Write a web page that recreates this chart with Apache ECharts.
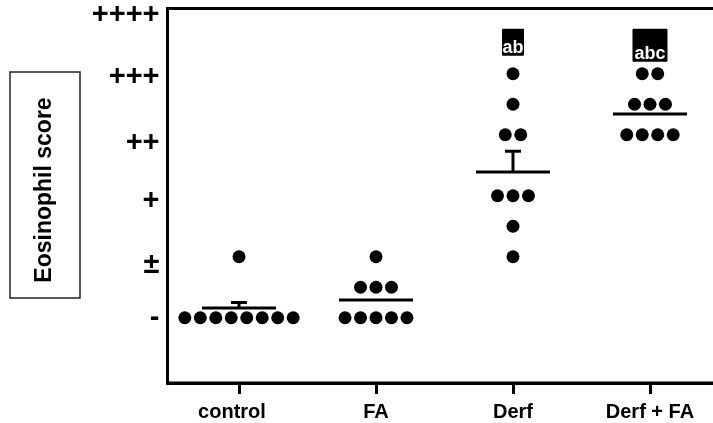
<!DOCTYPE html>
<html>
<head>
<meta charset="utf-8">
<script src="https://cdn.jsdelivr.net/npm/echarts@6/dist/echarts.min.js"></script>
<style>
  html, body { margin: 0; padding: 0; background: #fff; }
  #chart { width: 713px; height: 423px; }
</style>
</head>
<body>
<div id="chart"></div>
<script>
// ---- data ----
const categories = ['control', 'FA', 'Derf', 'Derf + FA'];
const controlScores = [0, 0, 0, 0, 0, 0, 0, 0, 1];
const faScores = [0, 0, 0, 0, 0, 0.5, 0.5, 0.5, 1];
const derfScores = [1, 1.5, 2, 2, 2, 3, 3, 3.5, 4];
const derfFaScores = [3, 3, 3, 3, 3.5, 3.5, 3.5, 4, 4];
const groupMeans = [0.16, 0.29, 2.39, 3.34];
const groupSem = [0.09, 0, 0.34, 0];
// tick label positions as they sit on the reference's score axis
const yTickValues = [0, 0.86, 1.91, 2.86, 3.94, 4.96];
const yTickLabels = ['-', '±', '+', '++', '+++', '++++'];
const sigLabels = ['', '', 'ab', 'abc'];
const sigLevel = 4.74;

const FONT = "'Liberation Sans', Arial, Helvetica, sans-serif";
const dotStep = 0.113; // horizontal spacing of tied dots, in category units

function spreadDots(scores, idx) {
  const counts = {};
  scores.forEach(v => { counts[v] = (counts[v] || 0) + 1; });
  const pts = [];
  Object.keys(counts).forEach(key => {
    const n = counts[key];
    for (let k = 0; k < n; k++) {
      pts.push([idx + (k - (n - 1) / 2) * dotStep, Number(key)]);
    }
  });
  return pts;
}

const allScores = [controlScores, faScores, derfScores, derfFaScores];
let dots = [];
allScores.forEach((s, i) => { dots = dots.concat(spreadDots(s, i)); });

const meanData = groupMeans.map((m, i) => [i, m, groupSem[i]]);
const sigData = sigLabels.map((t, i) => [i, sigLevel, t]).filter(d => d[2] !== '');

const chart = echarts.init(document.getElementById('chart'), null, { renderer: 'canvas' });

function labelFor(v) {
  let best = 0;
  yTickValues.forEach((t, i) => { if (Math.abs(t - v) < Math.abs(yTickValues[best] - v)) best = i; });
  return yTickLabels[best];
}

const xLabelStyle = { color: '#000', fontFamily: FONT, fontWeight: 'bold', fontSize: 20 };

chart.setOption({
  animation: false,
  backgroundColor: '#fff',
  grid: {
    left: 167.5, top: 8.5, right: -10, bottom: 40,
    outerBoundsMode: 'none',
    containLabel: false,
    show: true, borderColor: '#000', borderWidth: 3, backgroundColor: 'transparent'
  },
  xAxis: {
    type: 'value',
    min: -0.522, max: 3.533,
    splitLine: { show: false },
    axisLine: { show: true, onZero: false, lineStyle: { color: '#000', width: 3 } },
    axisTick: { show: true, customValues: [0, 1, 2, 3], length: 11, lineStyle: { color: '#000', width: 3 } },
    axisLabel: {
      customValues: [0, 1, 2, 3],
      formatter: v => {
        const i = Math.round(v);
        return i === 0 ? '{first|' + categories[i] + '}' : '{n|' + categories[i] + '}';
      },
      rich: {
        first: Object.assign({ padding: [0, 14, 0, 0] }, xLabelStyle),
        n: Object.assign({}, xLabelStyle)
      },
      color: '#000', fontFamily: FONT, fontWeight: 'bold', fontSize: 20, margin: 19
    }
  },
  yAxis: {
    type: 'value',
    min: -1.07, max: 5.07,
    splitLine: { show: false },
    axisLine: { show: true, onZero: false, lineStyle: { color: '#000', width: 3 } },
    axisTick: { show: false },
    axisLabel: {
      customValues: yTickValues,
      formatter: v => labelFor(v),
      color: '#000', fontFamily: FONT, fontWeight: 'bold', fontSize: 29, margin: 8
    }
  },
  graphic: [
    {
      type: 'rect',
      shape: { x: 10, y: 72, width: 70, height: 226 },
      style: { fill: 'none', stroke: '#222', lineWidth: 1.5 }
    },
    {
      type: 'text',
      x: 45, y: 190, rotation: Math.PI / 2,
      style: {
        text: 'Eosinophil score', x: 0, y: 0, align: 'center', verticalAlign: 'middle',
        fill: '#000', font: 'bold 23px ' + FONT
      }
    }
  ],
  series: [
    {
      type: 'scatter',
      data: dots,
      symbol: 'circle',
      symbolSize: 13,
      itemStyle: { color: '#000', opacity: 1 },
      emphasis: { disabled: true },
      z: 3
    },
    {
      type: 'custom',
      data: meanData,
      z: 4,
      renderItem: function (params, api) {
        const x = api.value(0), m = api.value(1), s = api.value(2);
        const p = api.coord([x, m]);
        const children = [{
          type: 'line',
          shape: { x1: p[0] - 37, y1: p[1], x2: p[0] + 37, y2: p[1] },
          style: { stroke: '#000', lineWidth: 3 }
        }];
        if (s > 0) {
          const q = api.coord([x, m + s]);
          children.push({
            type: 'line',
            shape: { x1: p[0], y1: p[1], x2: q[0], y2: q[1] },
            style: { stroke: '#000', lineWidth: 3 }
          });
          children.push({
            type: 'line',
            shape: { x1: q[0] - 8, y1: q[1], x2: q[0] + 8, y2: q[1] },
            style: { stroke: '#000', lineWidth: 3 }
          });
        }
        return { type: 'group', children: children };
      }
    },
    {
      type: 'custom',
      data: sigData,
      z: 5,
      renderItem: function (params, api) {
        const idx = api.value(0);
        const p = api.coord([idx, api.value(1)]);
        const txt = sigData[params.dataIndex][2];
        const w = txt.length > 2 ? 35 : 22;
        const h = txt.length > 2 ? 33 : 27;
        return {
          type: 'group',
          children: [
            { type: 'rect', shape: { x: p[0] - w / 2, y: p[1], width: w, height: h, r: 1 }, style: { fill: '#000' } },
            {
              type: 'text',
              style: {
                text: txt, x: p[0], y: p[1] + h + 1, align: 'center', verticalAlign: 'bottom',
                fill: '#fff', font: 'bold 18px ' + FONT
              }
            }
          ]
        };
      }
    }
  ]
});
</script>
</body>
</html>
